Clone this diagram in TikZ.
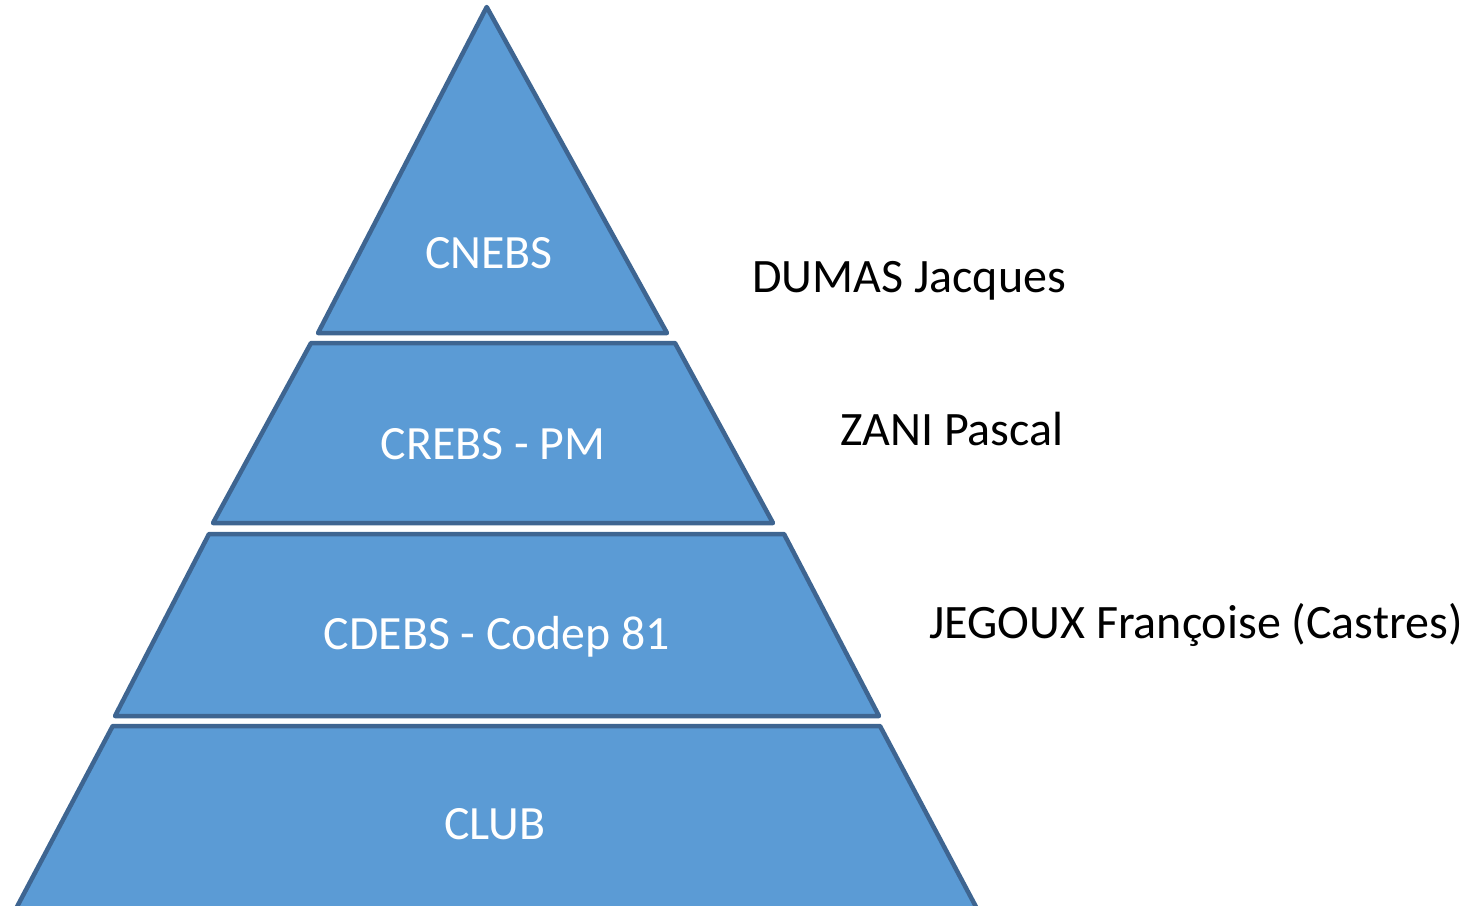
\documentclass[tikz,border=0pt]{standalone}
\usepackage{fontspec}
\setmainfont{Carlito}
\definecolor{tierfill}{HTML}{5B9BD5}
\definecolor{tierline}{HTML}{3E6591}
\begin{document}
\begin{tikzpicture}[x=1pt,y=-1pt,
  tier/.style={fill=tierfill,draw=tierline,line width=4.5pt,line join=round},
  inlabel/.style={anchor=base,inner sep=0pt,text=white,font=\fontsize{47.8}{57}\selectfont},
  sidelabel/.style={anchor=base west,inner sep=0pt,text=black,font=\fontsize{48}{57}\selectfont}]
\useasboundingbox (0,0) rectangle (1471,905);
\clip (0,0) rectangle (1471,905);
% tiers
\draw[tier] (486.7,7) -- (667,333) -- (318,333) -- cycle;
\draw[tier] (311,343) -- (675,343) -- (773,523) -- (213,523) -- cycle;
\draw[tier] (209,534) -- (784,534) -- (879,716) -- (115,716) -- cycle;
\draw[tier] (112.7,726) -- (880,726) -- (983,920) -- (10,920) -- cycle;
% tier labels
\node[inlabel] (cnebs) at (489,268) {CNEBS};
\node[inlabel] (crebs) at (493,459) {CREBS - PM};
\node[inlabel] (cdebs) at (497,649) {CDEBS - Codep 81};
\node[inlabel] (club) at (495,839) {CLUB};
% side labels
\node[sidelabel] (dumas) at (752,292) {DUMAS Jacques};
\node[sidelabel] (zani) at (840,445) {ZANI Pascal};
\node[sidelabel] (jegoux) at (929,638) {JEGOUX Françoise (Castres)};
\end{tikzpicture}
\end{document}
